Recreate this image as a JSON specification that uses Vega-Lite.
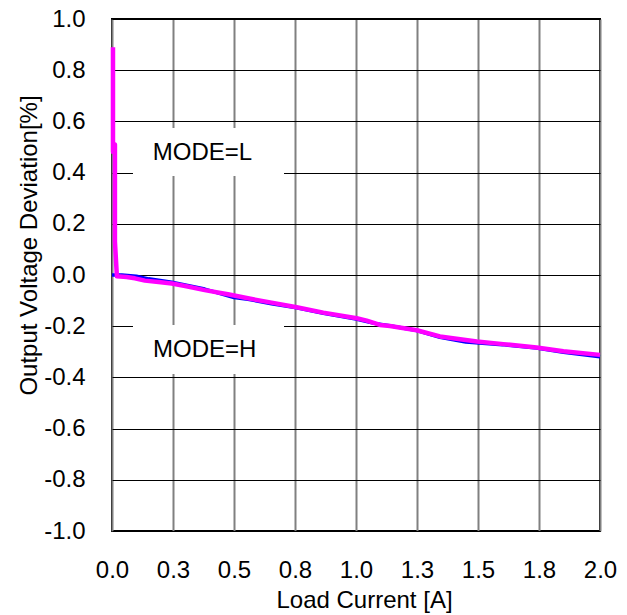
{
  "$schema": "https://vega.github.io/schema/vega-lite/v6.json",
  "width": 488,
  "height": 512,
  "autosize": {"type": "none"},
  "padding": {"left": 112, "top": 19, "right": 27, "bottom": 84},
  "background": "white",
  "config": {"view": {"stroke": "black", "strokeWidth": 2}, "font": "Liberation Sans"},
  "datasets": {
    "blue": [
      {"i": 0, "x": 0.0, "y": 0.0},
      {"i": 1, "x": 0.04, "y": 0.0},
      {"i": 2, "x": 0.1, "y": -0.005},
      {"i": 3, "x": 0.15, "y": -0.015},
      {"i": 4, "x": 0.245, "y": -0.028},
      {"i": 5, "x": 0.38, "y": -0.055},
      {"i": 6, "x": 0.5, "y": -0.088},
      {"i": 7, "x": 0.557, "y": -0.095},
      {"i": 8, "x": 0.654, "y": -0.112},
      {"i": 9, "x": 0.757, "y": -0.128},
      {"i": 10, "x": 0.866, "y": -0.15},
      {"i": 11, "x": 1.0, "y": -0.172},
      {"i": 12, "x": 1.07, "y": -0.188},
      {"i": 13, "x": 1.139, "y": -0.198},
      {"i": 14, "x": 1.249, "y": -0.217},
      {"i": 15, "x": 1.344, "y": -0.243},
      {"i": 16, "x": 1.45, "y": -0.262},
      {"i": 17, "x": 1.6, "y": -0.272},
      {"i": 18, "x": 1.74, "y": -0.285},
      {"i": 19, "x": 1.85, "y": -0.302},
      {"i": 20, "x": 2.0, "y": -0.319}
    ],
    "magenta": [
      {"i": 0, "x": 0.004, "y": 0.89},
      {"i": 1, "x": 0.004, "y": 0.48},
      {"i": 2, "x": 0.012, "y": 0.51},
      {"i": 3, "x": 0.012, "y": 0.13},
      {"i": 4, "x": 0.02, "y": -0.005},
      {"i": 5, "x": 0.06, "y": -0.008},
      {"i": 6, "x": 0.094, "y": -0.013},
      {"i": 7, "x": 0.135, "y": -0.022},
      {"i": 8, "x": 0.2, "y": -0.028},
      {"i": 9, "x": 0.245, "y": -0.033},
      {"i": 10, "x": 0.3, "y": -0.043},
      {"i": 11, "x": 0.38, "y": -0.059},
      {"i": 12, "x": 0.475, "y": -0.075},
      {"i": 13, "x": 0.557, "y": -0.091},
      {"i": 14, "x": 0.654, "y": -0.108},
      {"i": 15, "x": 0.757, "y": -0.126},
      {"i": 16, "x": 0.866, "y": -0.147},
      {"i": 17, "x": 1.003, "y": -0.169},
      {"i": 18, "x": 1.044, "y": -0.178},
      {"i": 19, "x": 1.098, "y": -0.195},
      {"i": 20, "x": 1.139, "y": -0.199},
      {"i": 21, "x": 1.249, "y": -0.216},
      {"i": 22, "x": 1.344, "y": -0.24},
      {"i": 23, "x": 1.495, "y": -0.26},
      {"i": 24, "x": 1.604, "y": -0.27},
      {"i": 25, "x": 1.74, "y": -0.283},
      {"i": 26, "x": 1.85, "y": -0.298},
      {"i": 27, "x": 2.0, "y": -0.312}
    ],
    "boxes": [
      {"x": 0.086, "xe": 0.705, "y": 0.574, "ye": 0.387},
      {"x": 0.086, "xe": 0.705, "y": -0.195, "ye": -0.387}
    ],
    "notes": [
      {"x": 0.371, "y": 0.477, "label": "MODE=L"},
      {"x": 0.38, "y": -0.294, "label": "MODE=H"}
    ]
  },
  "encoding": {
    "x": {
      "field": "x", "type": "quantitative",
      "scale": {"domain": [0, 2], "nice": false, "zero": false},
      "axis": {
        "title": "Load Current [A]",
        "values": [0, 0.25, 0.5, 0.75, 1, 1.25, 1.5, 1.75, 2],
        "format": ".1f",
        "grid": true, "gridColor": "#808080", "gridWidth": 2,
        "ticks": false, "domain": false,
        "labelFont": "Liberation Sans", "labelFontSize": 24, "labelColor": "black",
        "labelPadding": 27, "labelFlush": false, "labelOverlap": false,
        "titleFont": "Liberation Sans", "titleFontSize": 24, "titleFontWeight": "normal", "titleColor": "black",
        "titleX": 252, "titleY": 76, "titleAlign": "center", "titleBaseline": "alphabetic"
      }
    },
    "y": {
      "field": "y", "type": "quantitative",
      "scale": {"domain": [-1, 1], "nice": false, "zero": false},
      "axis": {
        "title": "Output Voltage Deviation[%]",
        "values": [-1, -0.8, -0.6, -0.4, -0.2, 0, 0.2, 0.4, 0.6, 0.8, 1],
        "labelExpr": "replace(format(datum.value, '.1f'), '\u2212', '-')",
        "grid": true, "gridColor": "black", "gridWidth": 1,
        "ticks": false, "domain": false,
        "labelFont": "Liberation Sans", "labelFontSize": 24, "labelColor": "black",
        "labelPadding": 27, "labelFlush": false, "labelOverlap": false,
        "titleFont": "Liberation Sans", "titleFontSize": 24, "titleFontWeight": "normal", "titleColor": "black",
        "titleAngle": -90, "titleX": -76, "titleY": 226, "titleAlign": "center", "titleBaseline": "alphabetic"
      }
    }
  },
  "layer": [
    {
      "data": {"name": "boxes"},
      "mark": {"type": "rect", "color": "white", "stroke": null},
      "encoding": {"x2": {"field": "xe"}, "y2": {"field": "ye"}}
    },
    {
      "data": {"name": "blue"},
      "mark": {"type": "line", "color": "#0000ff", "strokeWidth": 3.5, "strokeJoin": "round"},
      "encoding": {"order": {"field": "i", "type": "quantitative"}}
    },
    {
      "data": {"name": "magenta"},
      "mark": {"type": "line", "color": "#ff00ff", "strokeWidth": 4.5, "strokeJoin": "round"},
      "encoding": {"order": {"field": "i", "type": "quantitative"}}
    },
    {
      "data": {"name": "notes"},
      "mark": {"type": "text", "font": "Liberation Sans", "fontSize": 24, "color": "black", "align": "center", "baseline": "middle"},
      "encoding": {"text": {"field": "label", "type": "nominal"}}
    }
  ]
}
